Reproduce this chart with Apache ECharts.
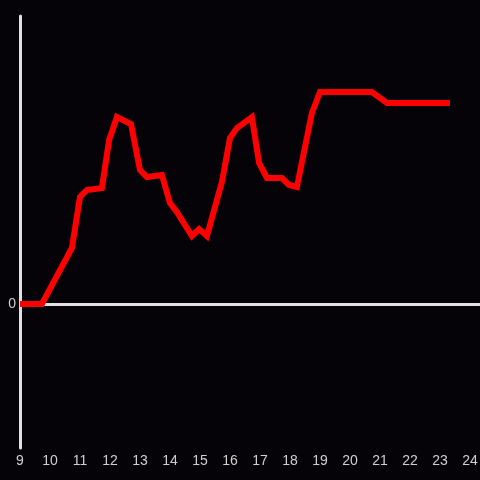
<!DOCTYPE html>
<html>
<head>
<meta charset="utf-8">
<script src="https://cdn.jsdelivr.net/npm/echarts@6/dist/echarts.min.js"></script>
<style>html,body{margin:0;padding:0;background:#050307;}#c{width:480px;height:480px;}</style>
</head>
<body>
<div id="c"></div>
<script>
// x positions (hours) and values
var times = [9.0, 9.73, 10.73, 11.0, 11.23, 11.73, 11.97, 12.23, 12.7, 13.0, 13.23, 13.73, 14.0, 14.23, 14.73, 14.97, 15.23, 15.73, 16.0, 16.23, 16.73, 16.97, 17.23, 17.73, 17.97, 18.23, 18.73, 19.0, 20.73, 21.23, 23.33];
var values = [0, 0, 56, 107, 114, 116, 164, 187, 180, 134, 127, 129, 101, 92, 68, 75, 68, 122, 166, 176, 187, 141, 126, 126, 119, 117, 191, 212, 212, 201, 201];
var xTicks = [9,10,11,12,13,14,15,16,17,18,19,20,21,22,23,24];

var pts = times.map(function(t,i){return [t, values[i]];});
var chart = echarts.init(document.getElementById('c'), null, {renderer:'canvas'});
chart.setOption({
  backgroundColor: '#050307',
  animation: false,
  grid: {left: 20, right: 0, top: 16, bottom: 32, containLabel: false, outerBoundsMode: 'none'},
  xAxis: {
    type: 'value', min: 9, max: 24 + 1/3, interval: 1,
    axisLine: {show: false}, axisTick: {show: false}, splitLine: {show: false},
    axisLabel: {color: '#d0d0d0', fontSize: 14, fontFamily: 'Liberation Sans, Arial, sans-serif', margin: 6,
      formatter: function(v){ return xTicks.indexOf(v) >= 0 ? String(v) : ''; }}
  },
  yAxis: {
    type: 'value', min: -144, max: 288, interval: 144,
    axisLine: {show: true, lineStyle: {color: '#e0e0e0', width: 3}},
    axisTick: {show: false}, splitLine: {show: false},
    axisLabel: {color: '#d0d0d0', fontSize: 14, fontFamily: 'Liberation Sans, Arial, sans-serif', margin: 4,
      formatter: function(v){ return v === 0 ? '0' : ''; }}
  },
  series: [{
    type: 'line', data: pts, showSymbol: false, symbol: 'none',
    lineStyle: {color: '#ff0000', width: 6, join: 'miter'}, z: 5,
    markLine: {
      silent: true, symbol: ['none', 'none'], z: 1, animation: false,
      label: {show: false},
      lineStyle: {color: '#e0e0e0', width: 3, type: 'solid'},
      data: [{yAxis: 0}]
    }
  }]
});
</script>
</body>
</html>
